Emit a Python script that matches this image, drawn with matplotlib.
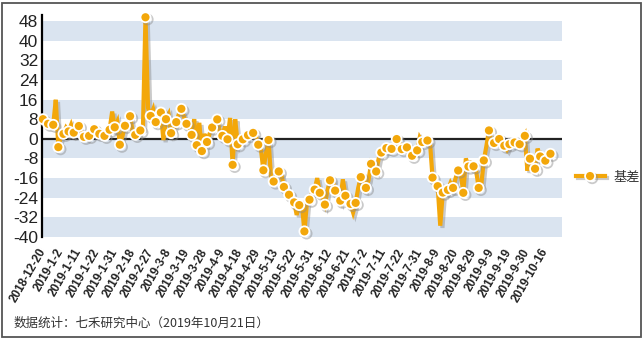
import matplotlib
matplotlib.use("Agg")
import matplotlib.pyplot as plt
import matplotlib.patheffects as pe
from matplotlib.lines import Line2D
from matplotlib.patches import Rectangle
import numpy as np

# Basis series (daily, trading days from 2018-12-20)
basis = [
    8.0, 7.5, 6.1, 5.5, 5.7, 15.9, -3.4, 1.0, 2.0, 4.5,
    3.0, 5.7, 2.5, 5.5, 5.2, 2.5, 0.8, 0.5, 1.2, 3.0,
    3.9, 3.5, 2.0, 1.5, 1.2, 2.5, 3.7, 11.1, 4.7, 7.0,
    -2.4, 1.0, 5.3, 5.0, 9.2, 3.0, 1.6, 2.0, 3.4, 4.0,
    49.5, 12.6, 9.3, 12.0, 6.8, 8.0, 10.7, -0.5, 8.0, 10.0,
    2.3, 4.0, 6.8, 10.0, 12.2, 9.0, 6.1, 5.0, 1.6, 8.0,
    -2.6, 6.5, -5.0, 2.0, -1.3, 2.0, 4.6, 6.0, 7.9, 3.0,
    1.2, 5.0, -0.2, 8.5, -10.6, 8.0, -2.2, 0.0, -0.2, 1.0,
    1.5, 2.0, 2.4, 1.5, -2.4, -4.0, -12.8, -6.0, -0.5, -16.0,
    -17.4, -15.0, -13.3, -14.5, -19.6, -20.5, -22.8, -24.0, -25.9, -31.0,
    -27.0, -26.5, -37.7, -26.0, -24.8, -22.0, -20.7, -16.0, -22.0, -24.0,
    -26.8, -21.0, -16.9, -17.0, -21.1, -23.0, -25.2, -16.5, -23.2, -25.0,
    -26.5, -30.0, -26.1, -20.0, -15.6, -17.0, -20.0, -17.0, -10.2, -12.0,
    -13.3, -8.0, -5.6, -4.5, -3.8, -3.4, -4.1, -2.0, -0.1, -1.5,
    -4.2, -3.0, -3.5, -5.0, -6.9, -6.0, -4.7, 0.5, -1.3, -1.0,
    -0.7, -1.5, -15.8, -19.0, -19.3, -35.4, -21.9, -22.5, -20.8, -18.0,
    -20.0, -16.0, -12.9, -14.0, -22.0, -8.0, -11.3, -10.0, -11.2, -13.0,
    -20.0, -19.0, -8.8, -3.0, 3.4, -1.5, -1.7, -1.8, -0.1, -1.0,
    -2.8, -4.5, -2.2, -2.0, -1.5, -2.5, -2.2, -1.0, 1.2, -13.0,
    -8.1, -11.0, -12.2, -4.0, -7.2, -9.5, -8.9, -7.5, -6.1,
]

# Category labels shown on the x axis (every 7th trading day)
date_labels = [
    "2018-12-20", "2019-1-2", "2019-1-11", "2019-1-22", "2019-1-31",
    "2019-2-18", "2019-2-27", "2019-3-8", "2019-3-19", "2019-3-28",
    "2019-4-9", "2019-4-18", "2019-4-29", "2019-5-13", "2019-5-22",
    "2019-5-31", "2019-6-12", "2019-6-21", "2019-7-2", "2019-7-11",
    "2019-7-22", "2019-7-31", "2019-8-9", "2019-8-20", "2019-8-29",
    "2019-9-9", "2019-9-19", "2019-9-30", "2019-10-16",
]
label_step = 7
y_ticks = list(range(-40, 49, 8))
series_name = "基差"
footer = "数据统计：七禾研究中心（2019年10月21日）"

ORANGE = "#F3A70A"
BAND = "#DAE4F0"
CJK = ["Noto Sans CJK SC", "DejaVu Sans"]

plt.rcParams["font.family"] = ["Liberation Sans", "DejaVu Sans"]

fig = plt.figure(figsize=(6.43, 3.42), dpi=100)
ax = fig.add_axes([0.066, 0.307, 0.808, 0.649])

x = np.arange(len(basis))
ax.set_xlim(-0.2, 202.5)
ax.set_ylim(-40, 50.4)

# alternating horizontal bands
for lo in range(-40, 48, 16):
    ax.axhspan(lo, lo + 8, color=BAND, lw=0, zorder=0)

ax.axhline(0, color="#222222", lw=1.6, zorder=1)

shadow = [
    pe.SimpleLineShadow(offset=(1.6, -1.6), shadow_color="#8a8a8a", alpha=0.45),
    pe.Normal(),
]

line, = ax.plot(
    x, basis, color=ORANGE, lw=3.0, solid_joinstyle="miter",
    marker="o", markevery=2, ms=7.2, mfc=ORANGE, mec="white", mew=1.3,
    zorder=3, clip_on=False,
)
line.set_path_effects(shadow)

ax.set_yticks(y_ticks)
ax.set_yticklabels([str(v) for v in y_ticks], fontsize=12.5, color="#222222")
ticks = np.arange(0, len(date_labels) * label_step, label_step)
ax.set_xticks(ticks)
ax.set_xticklabels(date_labels, rotation=60, ha="right", va="center",
                   rotation_mode="anchor", fontsize=8.5, fontweight="bold",
                   color="#222222")
ax.tick_params(axis="both", length=0)
ax.tick_params(axis="x", pad=9)
ax.tick_params(axis="y", pad=3)

for side in ("top", "right", "bottom"):
    ax.spines[side].set_visible(False)
ax.spines["left"].set_color("black")
ax.spines["left"].set_linewidth(1.6)

handle = Line2D([], [], color=ORANGE, lw=3.0, marker="o", ms=7.2,
                mfc=ORANGE, mec="white", mew=1.3)
handle.set_path_effects(shadow)
leg = fig.legend([handle], [series_name], loc="center left",
                 bbox_to_anchor=(0.891, 0.482), bbox_transform=fig.transFigure,
                 frameon=False, handlelength=2.2, handletextpad=0.7,
                 borderpad=0.2, borderaxespad=0.0,
                 prop={"family": CJK, "size": 9.5})
for t in leg.get_texts():
    t.set_color("#333333")

fig.text(14 / 643, 1 - 323 / 342, footer, family=CJK, fontsize=9,
         color="#333333", va="center", ha="left")

fig.patches.append(Rectangle((2 / 643, 5 / 342), 639 / 643, 334 / 342,
                             transform=fig.transFigure, fill=False,
                             edgecolor="#555555", lw=1.3))

fig.savefig("out.png", dpi=100)
